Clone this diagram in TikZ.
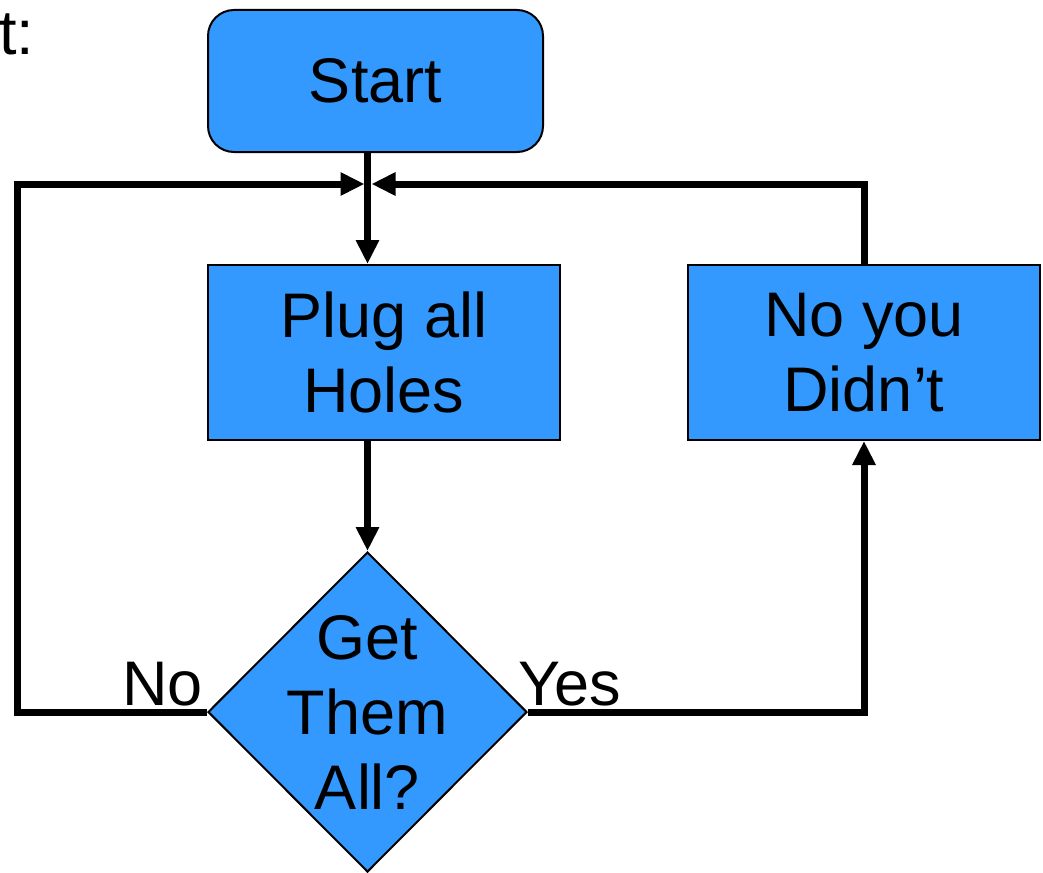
\documentclass[tikz,border=0pt]{standalone}
\usepackage{fontspec}
\setmainfont{Liberation Sans}
\usetikzlibrary{arrows.meta,shapes.geometric}
\definecolor{boxblue}{HTML}{3399FF}
\begin{document}
\begin{tikzpicture}[x=1pt,y=-1pt,
  bigfont/.style={font=\fontsize{63}{75}\selectfont},
  block/.style={draw=black,line width=2pt,fill=boxblue,inner sep=0pt,bigfont,align=center},
  procbox/.style={block,minimum width=352pt,minimum height=175pt},
  startbox/.style={block,rounded corners=26pt,minimum width=335pt,minimum height=142pt},
  decision/.style={draw=black,line width=2pt,fill=boxblue,shape=diamond,inner sep=0pt,
    minimum width=319pt,minimum height=320pt},
  flow/.style={line width=7pt,-{Triangle[length=24pt,width=22pt]}},
  lbl/.style={bigfont,inner sep=0pt}]
  \useasboundingbox (0,0) rectangle (1043,872);
  \clip (0,0) rectangle (1043,872);

  % caption fragment
  \node[lbl,anchor=base west] (cap) at (-1,55) {t:};

  % blocks
  \node[startbox] (start) at (375.5,81) {Start};
  \node[procbox] (plug) at (384,352.5) {Plug all\\Holes};
  \node[procbox] (nope) at (864,352.5) {No you\\Didn’t};
  \node[decision] (q) at (367.5,712) {};
  \node[lbl,align=center] (qtext) at (q.center) {Get\\Them\\All?};

  % junction above the first step
  \coordinate (jl) at (364.5,184);
  \coordinate (jr) at (371.5,184);

  % main flow
  \draw[flow] (start.south -| q.north) -- (plug.north -| q.north);
  \draw[flow] (plug.south -| q.north) -- (q.north);

  % No branch loops back
  \draw[flow] (q.west) -- (17,712) |- (jl);
  % Yes branch
  \draw[flow] (q.east) -| (nope.south);
  % back to the junction
  \draw[flow] (nope.north) |- (jr);

  % branch labels
  \node[lbl,anchor=base east] (no) at (203,705) {No};
  \node[lbl,anchor=base west] (yes) at (518,705) {Yes};
\end{tikzpicture}
\end{document}
